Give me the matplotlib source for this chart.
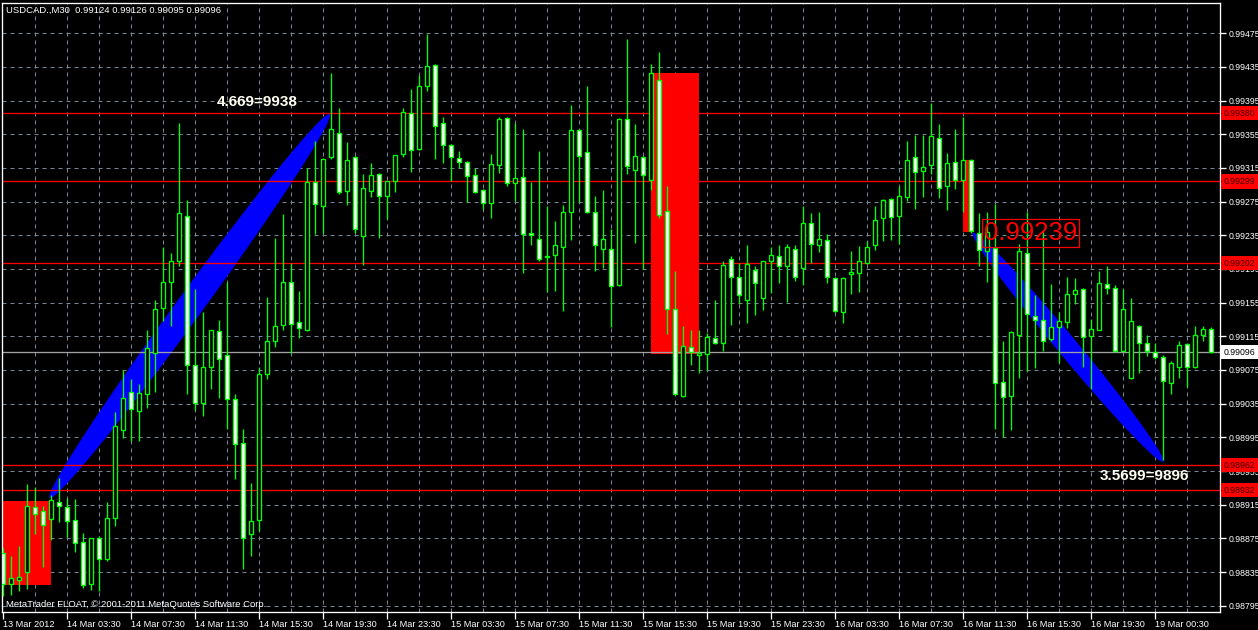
import numpy as np
import matplotlib
matplotlib.use("Agg")
import matplotlib.pyplot as plt
from matplotlib.patches import Rectangle, Polygon

plt.rcParams['font.family'] = ['Liberation Sans', 'DejaVu Sans']

# USDCAD M30 bars, prices in points (1e-5)
opens = [98858, 98821, 98826, 98835, 98912, 98907, 98898, 98918, 98912, 98897,
         98871, 98821, 98876, 98850, 98899, 99004, 99049, 99026, 99047, 99095,
         99149, 99179, 99205, 99258, 99081, 99036, 99078, 99121, 99093, 99041,
         98988, 98880, 98897, 99070, 99110, 99128, 99180, 99132, 99123, 99298,
         99270, 99328, 99356, 99288, 99328, 99234, 99288, 99308, 99282, 99299,
         99332, 99380, 99337, 99412, 99437, 99369, 99342, 99327, 99322, 99307,
         99289, 99273, 99318, 99374, 99297, 99304, 99238, 99231, 99209, 99212,
         99221, 99263, 99360, 99334, 99263, 99219, 99219, 99176, 99373, 99313,
         99328, 99301, 99420, 99264, 99148, 99044, 99102, 99093, 99094, 99113,
         99107, 99207, 99185, 99158, 99194, 99160, 99205, 99211, 99199, 99219,
         99196, 99250, 99224, 99230, 99184, 99144, 99189, 99190, 99202, 99224,
         99255, 99278, 99258, 99281, 99328, 99311, 99318, 99351, 99293, 99322,
         99301, 99325, 99238, 99216, 99220, 99061, 99044, 99117, 99214, 99139,
         99134, 99112, 99126, 99132, 99165, 99171, 99115, 99123, 99177, 99173,
         99097, 99065, 99127, 99107, 99096, 99091, 99059, 99079, 99106, 99078,
         99117, 99124]
highs = [98864, 98854, 98866, 98939, 98936, 98913, 98927, 98947, 98923, 98922,
         98881, 98876, 98878, 98918, 99025, 99075, 99064, 99058, 99122, 99158,
         99221, 99214, 99368, 99277, 99171, 99144, 99123, 99134, 99179, 99047,
         99005, 98941, 99079, 99162, 99232, 99260, 99202, 99169, 99315, 99347,
         99327, 99428, 99386, 99346, 99329, 99308, 99321, 99309, 99300, 99331,
         99386, 99409, 99426, 99474, 99438, 99376, 99343, 99335, 99323, 99315,
         99290, 99332, 99376, 99375, 99368, 99361, 99298, 99335, 99270, 99252,
         99271, 99390, 99361, 99412, 99282, 99289, 99242, 99374, 99468, 99367,
         99329, 99439, 99453, 99293, 99193, 99127, 99122, 99122, 99119, 99158,
         99205, 99211, 99202, 99223, 99198, 99205, 99221, 99223, 99225, 99223,
         99270, 99262, 99263, 99237, 99185, 99185, 99216, 99222, 99228, 99270,
         99278, 99279, 99294, 99347, 99354, 99354, 99392, 99367, 99333, 99361,
         99376, 99326, 99262, 99263, 99272, 99110, 99121, 99225, 99263, 99164,
         99241, 99177, 99144, 99185, 99184, 99172, 99135, 99193, 99198, 99176,
         99171, 99160, 99129, 99116, 99107, 99093, 99086, 99109, 99107, 99127,
         99127, 99126]
lows = [98807, 98808, 98813, 98815, 98880, 98841, 98873, 98894, 98877, 98859,
        98816, 98814, 98813, 98848, 98890, 98994, 98991, 98991, 99030, 99049,
        99133, 99127, 99198, 99047, 99027, 99020, 99053, 99042, 99005, 98945,
        98838, 98854, 98884, 99064, 99102, 99122, 99095, 99113, 99121, 99237,
        99238, 99326, 99284, 99271, 99238, 99200, 99281, 99232, 99254, 99286,
        99328, 99310, 99336, 99406, 99326, 99321, 99300, 99315, 99275, 99285,
        99266, 99256, 99309, 99294, 99276, 99190, 99224, 99205, 99168, 99169,
        99145, 99229, 99275, 99262, 99193, 99196, 99126, 99175, 99308, 99226,
        99195, 99289, 99256, 99118, 99045, 99043, 99081, 99071, 99075, 99106,
        99098, 99129, 99154, 99131, 99140, 99146, 99166, 99178, 99156, 99181,
        99176, 99202, 99215, 99178, 99144, 99131, 99165, 99168, 99201, 99218,
        99228, 99229, 99225, 99276, 99266, 99280, 99308, 99279, 99265, 99290,
        99263, 99238, 99198, 99179, 99005, 98995, 99004, 99066, 99074, 99077,
        99098, 99109, 99083, 99125, 99153, 99079, 99053, 99122, 99165, 99096,
        99096, 99064, 99071, 99092, 99088, 98968, 99047, 99066, 99055, 99077,
        99109, 99095]
closes = [98821, 98828, 98829, 98913, 98904, 98891, 98921, 98913, 98896, 98870,
          98820, 98875, 98851, 98899, 99008, 99042, 99029, 99048, 99101, 99148,
          99179, 99205, 99262, 99081, 99036, 99079, 99122, 99088, 99041, 98987,
          98875, 98896, 99070, 99109, 99127, 99180, 99130, 99125, 99298, 99272,
          99326, 99361, 99286, 99325, 99243, 99291, 99307, 99282, 99299, 99330,
          99382, 99336, 99412, 99436, 99365, 99342, 99328, 99322, 99305, 99287,
          99273, 99320, 99373, 99297, 99303, 99237, 99235, 99207, 99210, 99223,
          99263, 99360, 99329, 99263, 99224, 99231, 99175, 99373, 99317, 99329,
          99307, 99428, 99259, 99148, 99046, 99104, 99096, 99095, 99114, 99107,
          99200, 99185, 99164, 99201, 99178, 99204, 99212, 99199, 99221, 99186,
          99250, 99225, 99231, 99185, 99145, 99184, 99191, 99204, 99221, 99253,
          99277, 99257, 99282, 99325, 99310, 99316, 99353, 99291, 99321, 99301,
          99325, 99240, 99217, 99239, 99060, 99043, 99120, 99216, 99142, 99134,
          99109, 99126, 99133, 99165, 99170, 99114, 99124, 99178, 99173, 99097,
          99147, 99133, 99107, 99097, 99090, 99062, 99083, 99105, 99078, 99117,
          99124, 99096]

time_labels = ['13 Mar 2012', '14 Mar 03:30', '14 Mar 07:30', '14 Mar 11:30',
               '14 Mar 15:30', '14 Mar 19:30', '14 Mar 23:30', '15 Mar 03:30',
               '15 Mar 07:30', '15 Mar 11:30', '15 Mar 15:30', '15 Mar 19:30',
               '15 Mar 23:30', '16 Mar 03:30', '16 Mar 07:30', '16 Mar 11:30',
               '16 Mar 15:30', '16 Mar 19:30', '19 Mar 00:30']
price_ticks = [0.98795, 0.98835, 0.98875, 0.98915, 0.98955, 0.98995, 0.99035,
               0.99075, 0.99115, 0.99155, 0.99195, 0.99235, 0.99275, 0.99315,
               0.99355, 0.99395, 0.99435, 0.99475]
levels = [0.99380, 0.99299, 0.99202, 0.98962, 0.98932]
last_price = 0.99096
# (bar from, bar to, low, high)
zones = [(0, 6, 0.98820, 0.98919),
         (81, 87, 0.99094, 0.99428),
         (120, 121, 0.99239, 0.99324)]
# ellipse objects: two ends (bar, price) and thickness in px
ellipses = [((5.8, 0.98923), (40.8, 0.99379), 26),
            ((121.2, 0.99238), (145.0, 0.98966), 20)]

o = np.array(opens) / 1e5
h = np.array(highs) / 1e5
l = np.array(lows) / 1e5
c = np.array(closes) / 1e5
x = np.arange(len(o))

W, H = 1258, 630
fig = plt.figure(figsize=(W / 100, H / 100), dpi=100, facecolor='black')
ax = fig.add_axes([2 / W, (H - 612) / H, 1218 / W, 609 / H], facecolor='black')
ax.set_xlim(-0.1625, 152.09)
ax.set_ylim(0.987875, 0.99511)

green = '#00ff00'
grid_c = '#778899'
lw1 = 0.95

# grid
for p in price_ticks:
    ax.axhline(p, color=grid_c, lw=0.72, ls=(0, (4, 4)), zorder=0.5)
for b in range(4, 152, 4):
    ax.axvline(b, color=grid_c, lw=0.72, ls=(0, (4, 4)), zorder=0.5)

# rectangles
for b0, b1, lo, hi in zones:
    ax.add_patch(Rectangle((b0, lo), b1 - b0, hi - lo, color='red', zorder=1, lw=0))

# ellipses, built in pixel space so they keep their screen shape
for p1, p2, wpx in ellipses:
    a = ax.transData.transform(p1)
    b = ax.transData.transform(p2)
    cen = (a + b) / 2
    d = b - a
    half = np.hypot(*d) / 2
    u = d / (2 * half)
    v = np.array([-u[1], u[0]])
    t = np.linspace(0, 2 * np.pi, 300)
    pts = cen + np.outer(half * np.cos(t), u) + np.outer(wpx / 2 * np.sin(t), v)
    ax.add_patch(Polygon(ax.transData.inverted().transform(pts), closed=True,
                         color='#0000ff', lw=0, zorder=1.5))

for lv in levels:
    ax.axhline(lv, color='red', lw=lw1, zorder=2)
ax.axhline(last_price, color='#a0a0a0', lw=lw1, zorder=2)

# candles
ax.vlines(x, l, h, color=green, lw=lw1, zorder=3)
fill = np.where(c > o, 'black', 'white')
ax.bar(x, c - o, bottom=o, width=0.5, color=fill, edgecolor=green,
       lw=lw1, zorder=4)

# texts
ax.text(26.7, 0.99393, '4.669=9938', color='#fffdf0', fontsize=11,
        fontweight='bold', ha='left', va='center', zorder=6)
ax.text(137.1, 0.98949, '3.5699=9896', color='#fffdf0', fontsize=11,
        fontweight='bold', ha='left', va='center', zorder=6)
ax.text(122.6, 0.99238, '0.99239', color='red', fontsize=18.5, ha='left',
        va='center', zorder=6,
        bbox=dict(boxstyle='square,pad=0.08', fc='none', ec='red', lw=0.9))

ax.text(4 / 1218, 1 - 3 / 609, 'USDCAD.,M30  0.99124 0.99126 0.99095 0.99096',
        transform=ax.transAxes, color='white', fontsize=6.8, ha='left', va='top')
ax.text(4 / 1218, 3 / 609, 'MetaTrader FLOAT, © 2001-2011 MetaQuotes Software Corp.',
        transform=ax.transAxes, color='white', fontsize=6.8, ha='left', va='bottom')

# axes look
for s in ax.spines.values():
    s.set_color('white')
    s.set_linewidth(lw1)
ax.yaxis.tick_right()
ax.set_yticks(price_ticks)
ax.set_yticklabels([f'{p:.5f}' for p in price_ticks])
ax.tick_params(axis='y', colors='white', labelsize=6.3, length=4, width=lw1, pad=2)
ax.set_xticks(range(0, 8 * len(time_labels), 8))
ax.set_xticklabels(time_labels)
for lab in ax.get_xticklabels():
    lab.set_horizontalalignment('left')
ax.tick_params(axis='x', colors='white', labelsize=6.6, length=5, width=lw1, pad=1)

ytr = ax.get_yaxis_transform()
for lv in levels:
    ax.text(1 + 4 / 1218, lv, f'{lv:.5f}', transform=ytr, color='#400000',
            fontsize=6.3, ha='left', va='center', zorder=7, clip_on=False,
            bbox=dict(boxstyle='square,pad=0.3', fc='red', ec='red', lw=0))
ax.text(1 + 4 / 1218, last_price, f'{last_price:.5f}', transform=ytr, color='black',
        fontsize=6.3, ha='left', va='center', zorder=7, clip_on=False,
        bbox=dict(boxstyle='square,pad=0.3', fc='white', ec='white', lw=0))

fig.savefig('out.png', dpi=100, facecolor='black')
